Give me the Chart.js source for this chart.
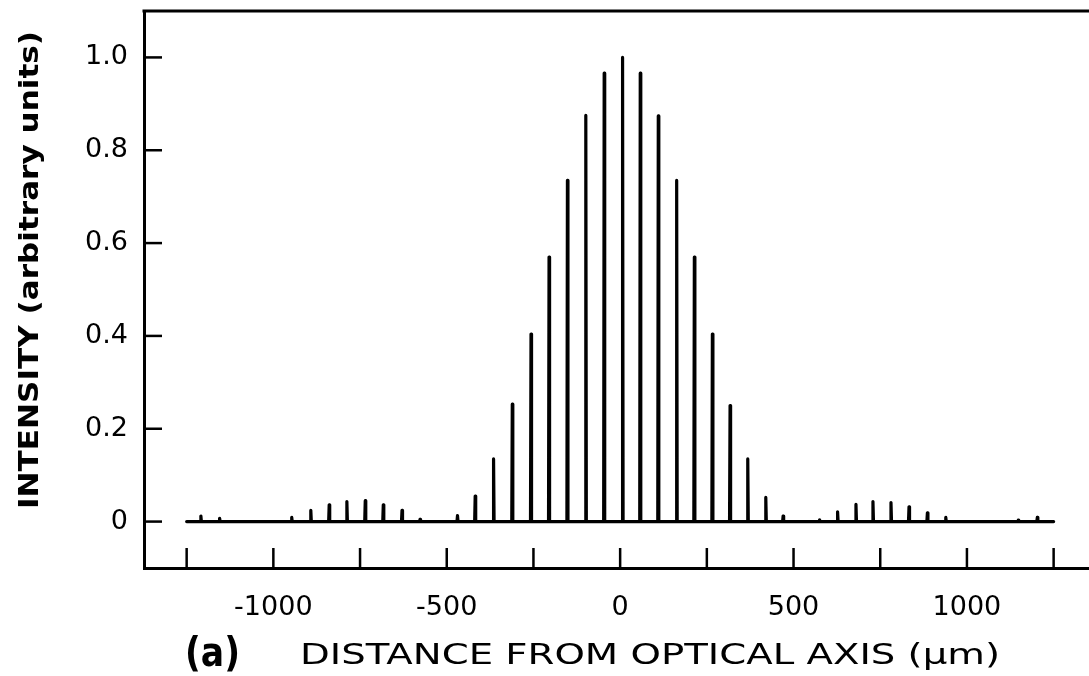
<!DOCTYPE html>
<html>
<head>
<meta charset="utf-8">
<script src="https://cdn.jsdelivr.net/npm/chart.js@4.4.0/dist/chart.umd.min.js"></script>
<style>
html,body{margin:0;padding:0;background:#fff;overflow:hidden}
#wrap{width:1089px;height:676px;position:relative}
</style>
</head>
<body>
<div id="wrap"><canvas id="c"></canvas></div>
<script>
// Peak positions (µm) and intensities (arbitrary units)
const peakPositions = [-1209,-1155,-947,-892,-839,-788,-735,-683,-629,-577,
  -469,-418,-365,-311,-257,-205,-152,-99,-46,7,58,110,163,214,266,317,368,420,470,
  575,627,680,729,781,833,886,939,1148,1203];
const peakHeights = [0.012,0.007,0.009,0.024,0.036,0.043,0.045,0.036,0.024,0.005,
  0.013,0.055,0.135,0.253,0.404,0.570,0.735,0.875,0.966,1.0,0.966,0.874,0.735,0.570,0.404,0.250,0.135,0.052,0.012,
  0.004,0.021,0.037,0.043,0.041,0.032,0.019,0.009,0.003,0.009];
const baselineStart = -1250;
const baselineEnd = 1250;
const xAxisRange = [-1373, 1352];
const yAxisRange = [-0.1, 1.1];
const xTickValues = [-1250,-1000,-750,-500,-250,0,250,500,750,1000,1250];
const xLabelValues = [-1000,-500,0,500,1000];
const yTickValues = [0,0.2,0.4,0.6,0.8,1.0];
const yTickLabels = ['0','0.2','0.4','0.6','0.8','1.0'];
const xTitle = 'DISTANCE FROM OPTICAL AXIS (\u03bcm)';
const yTitle = 'INTENSITY (arbitrary units)';
const panelLabel = '(a)';

// Build the trace: baseline with narrow spikes
const halfWidth = 1.5;
const trace = [{x: baselineStart, y: 0}];
peakPositions.forEach((p, i) => {
  trace.push({x: p - halfWidth, y: 0});
  trace.push({x: p, y: peakHeights[i]});
  trace.push({x: p + halfWidth, y: 0});
});
trace.push({x: baselineEnd, y: 0});

const FONT = "'DejaVu Sans', sans-serif";

// draw text at given font size, stretched horizontally to a target width
function stretchedText(ctx, text, font, x, y, target, align) {
  ctx.save();
  ctx.font = font;
  const w = ctx.measureText(text).width;
  const sx = target / w;
  ctx.translate(x, y);
  ctx.scale(sx, 1);
  ctx.textAlign = align;
  ctx.fillText(text, 0, 0);
  ctx.restore();
}

const framePlugin = {
  id: 'frame',
  afterDraw(chart) {
    const ctx = chart.ctx;
    const a = chart.chartArea;
    const xs = chart.scales.x, ys = chart.scales.y;
    ctx.save();
    ctx.strokeStyle = '#000';
    ctx.lineWidth = 3;
    ctx.lineCap = 'butt';
    // top frame line
    ctx.beginPath();
    ctx.moveTo(a.left - 1.5, a.top);
    ctx.lineTo(a.right, a.top);
    ctx.stroke();
    // inward x ticks
    ctx.lineWidth = 2.5;
    xTickValues.forEach(v => {
      const px = xs.getPixelForValue(v);
      ctx.beginPath();
      ctx.moveTo(px, a.bottom);
      ctx.lineTo(px, a.bottom - 20);
      ctx.stroke();
    });
    // inward y ticks
    yTickValues.forEach(v => {
      const py = ys.getPixelForValue(v);
      ctx.beginPath();
      ctx.moveTo(a.left, py);
      ctx.lineTo(a.left + 18, py);
      ctx.stroke();
    });
    // titles
    ctx.fillStyle = '#000';
    ctx.textBaseline = 'middle';
    stretchedText(ctx, panelLabel, 'bold 40px ' + FONT, 185, 656, 55, 'left');
    stretchedText(ctx, xTitle, 'normal 29px ' + FONT, 300, 656, 700, 'left');
    // y title
    ctx.save();
    ctx.translate(31, 270);
    ctx.rotate(-Math.PI / 2);
    stretchedText(ctx, yTitle, 'bold 26px ' + FONT, 0, 0, 478, 'center');
    ctx.restore();
    ctx.restore();
  }
};

new Chart(document.getElementById('c'), {
  type: 'line',
  data: {
    datasets: [{
      data: trace,
      borderColor: '#000',
      borderWidth: 3.2,
      pointRadius: 0,
      tension: 0,
      borderJoinStyle: 'round',
      borderCapStyle: 'round',
      fill: false
    }]
  },
  options: {
    responsive: true,
    maintainAspectRatio: false,
    animation: false,
    layout: {padding: {top: 11, left: 0, right: 0, bottom: 0}},
    plugins: {legend: {display: false}, tooltip: {enabled: false}},
    scales: {
      x: {
        type: 'linear',
        min: xAxisRange[0],
        max: xAxisRange[1],
        grid: {display: false, drawTicks: false},
        border: {display: true, color: '#000', width: 3},
        afterBuildTicks: s => { s.ticks = xTickValues.map(v => ({value: v})); },
        afterFit: s => { s.height = 108; s.paddingLeft = 0; s.paddingRight = 0; },
        ticks: {
          autoSkip: false,
          maxRotation: 0,
          color: '#000',
          padding: 24,
          font: {family: FONT, size: 27},
          callback: v => xLabelValues.includes(v) ? String(v) : ''
        }
      },
      y: {
        type: 'linear',
        min: yAxisRange[0],
        max: yAxisRange[1],
        grid: {display: false, drawTicks: false},
        border: {display: true, color: '#000', width: 3},
        afterBuildTicks: s => { s.ticks = yTickValues.map(v => ({value: v})); },
        afterFit: s => { s.width = 144; s.paddingTop = 0; s.paddingBottom = 0; },
        ticks: {
          autoSkip: false,
          color: '#000',
          padding: 16,
          font: {family: FONT, size: 27},
          callback: (v) => { const i = yTickValues.indexOf(v); return i >= 0 ? yTickLabels[i] : ''; }
        }
      }
    }
  },
  plugins: [framePlugin]
});
</script>
</body>
</html>
